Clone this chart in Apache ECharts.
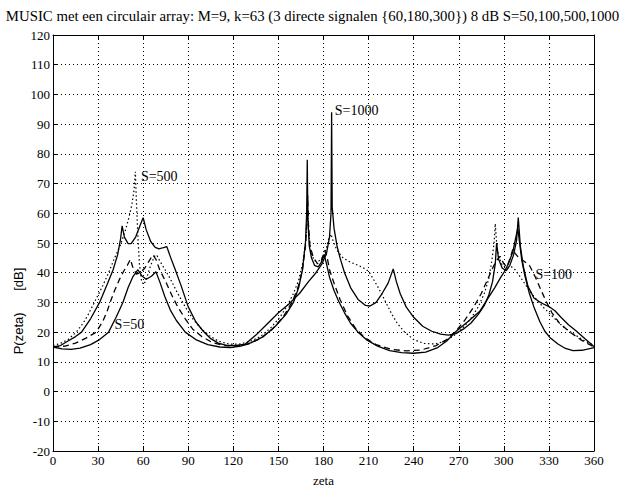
<!DOCTYPE html>
<html>
<head>
<meta charset="utf-8">
<script src="https://cdn.jsdelivr.net/npm/echarts@6/dist/echarts.min.js"></script>
<style>html,body{margin:0;padding:0;background:#fff}#c{width:625px;height:492px}</style>
</head>
<body>
<div id="c"></div>
<script>
const titleText = 'MUSIC met een circulair array: M=9, k=63 (3 directe signalen {60,180,300}) 8 dB S=50,100,500,1000';
const xTicks = [0,30,60,90,120,150,180,210,240,270,300,330,360];
const yTicks = [-20,-10,0,10,20,30,40,50,60,70,80,90,100,110,120];

// S=1000 (solid)
const s1000 = [[0,15],[5,15.5],[10,17],[15,18.5],[19,20],[25,24.5],[31,30],[36,36],[40,41],[43,46],[45,51.5],[46,55.8],[47.5,52],[50,49.8],[52,49.8],[55,52],[58,56],[60,58.5],[62,54.5],[65,50.5],[68,48.5],[70.5,48],[73,48.4],[75.7,48.8],[78,45.5],[81,41.5],[85,36],[90,28.5],[95,23.5],[100,20.3],[105,17.8],[110,16.3],[116,15.5],[122,15.5],[128,16],[135,19],[142,22.5],[150,26.5],[157,29.5],[164,33],[170,37],[175,40],[179,43],[182,46.5],[184,52],[185,60],[185.4,94],[185.8,62],[187,55],[189,49],[191,45],[194,40],[198,35],[203,31],[208,29],[211,28.8],[215,30],[219,33],[223,36.5],[226.4,41.3],[228.5,37],[231,33],[235,28.5],[240,25],[246,22],[252,20.3],[258,19.3],[263,19],[268,19.5],[273,21],[278,23],[283,26],[287,29],[290,32.5],[292.5,37],[294.3,43],[295.2,50],[296.5,44.5],[299,41.5],[301.6,40.7],[304,42.5],[306.5,46],[308.5,51],[309.6,58.6],[311,49],[313,42],[316,35.5],[320,31.5],[325,29.8],[330,28.6],[334,27.2],[338,25],[343,22.5],[348,20.5],[354,17.8],[360,15.2]];
// S=50 (solid)
const s50 = [[0,15],[6,14.4],[12,14.2],[18,14.6],[25,15.8],[31,17.5],[37,20],[42,25],[46.5,30],[50,35],[53,38.5],[56.5,41],[59,39],[62,37.8],[65.5,38.8],[68.5,40.3],[71,37],[74.4,32],[78,27.5],[82,24],[88,20],[95,17.5],[103,15.8],[111,15],[118,14.8],[125,15.3],[132,16.5],[140,18.5],[148,22],[155,26],[160,30],[163.5,35],[166,41],[168,50],[168.8,60],[169.2,78],[169.6,58],[170.5,49],[172,45],[174,42.5],[176.5,42],[178.5,43.5],[180.5,46],[182,43],[184,38.5],[187,34],[190,30.5],[194,26.5],[198,23],[203,20],[209,17.3],[216,15.3],[224,13.8],[232,13.1],[240,12.9],[248,13.3],[256,14.8],[262,17],[268.5,20.4],[276,23.5],[284,27],[289,31],[294,35],[298,38.5],[300,40],[303,43],[306,47],[308,52],[309.3,55],[310.5,50],[312,44],[314,39],[317,33],[320,28.5],[324,23.5],[327.3,20.3],[331,18],[336,16],[341,14.5],[346,13.8],[352,13.9],[360,14.8]];
// S=100 (dashed)
const s100 = [[0,15],[8,15.3],[15,16.3],[22,18],[28.7,20],[33,23.5],[36,27],[38,30],[41,34],[44,37.5],[47,40.5],[49.5,42.5],[51.5,44.5],[53,42],[55.5,39.5],[58,40],[61,41.5],[64,44],[66.5,46],[68.5,44.5],[71,41],[75,37],[79,32.5],[83,28.5],[88,24.5],[93,21],[99,18.5],[106,16.5],[114,15.5],[122,15.3],[130,16],[138,17.8],[146,21],[153,25],[159,30],[163,35],[166,41],[168,49],[169,58],[169.5,66],[170,56],[171,49],[173,45.5],[176,43],[178.5,44],[180.8,47.5],[182.5,45],[184,41],[187,36.5],[191,31],[196,25.5],[201,21.5],[207,18.3],[215,15.8],[225,14.2],[235,13.7],[245,14],[255,15.5],[262,17.5],[268,20.3],[274,24],[280,28.5],[285,33],[289,37.5],[292,41],[295,44],[297.5,45.5],[300,43],[302,42],[304,44.5],[306,48],[307.5,46.5],[310,45],[313,44],[317,42.5],[321,38.5],[324,35],[328,30.5],[332,26.5],[337,23],[344,20],[351,17.5],[360,15]];
// S=500 (dotted)
const s500 = [[0,15.5],[5,16.2],[10,17.5],[15.5,20],[20,23],[23,25.5],[26,28.5],[29,31.5],[33,35.5],[37,40],[41,45],[45,49.5],[48,54],[50.5,58.5],[52.5,63],[54,68],[54.8,74],[55.5,64],[56.5,52],[57.5,43],[59,37],[60.5,36],[62.5,38.5],[65,42.5],[67.5,45.5],[69,46],[71,44],[74,41.5],[78,38],[83,33],[88,28.5],[93,24.5],[98,21.5],[104,18.8],[110,17],[117,16],[124,16],[131,16.8],[138,18.5],[145,21.5],[151,25],[156,29],[160,33],[163.5,37.5],[166.5,44],[168.5,52],[169.5,62],[170.3,53],[171.5,47],[174,44],[177,44],[180,45.5],[182,48.5],[183.5,51.5],[185,53],[186.5,50.5],[189,47.5],[193,45],[198,43.5],[203,42.5],[207,41.5],[210,40.5],[213,38],[217,34.5],[221,30.5],[225,26.5],[229,23],[234,20],[240,17.5],[247,16.2],[254,16],[260,16.8],[266,18.5],[272,21],[278,24.5],[283,28.5],[287,33],[290,38],[292,44],[293.5,50],[294.3,56.5],[295.2,50],[296.5,45.5],[299,42.5],[302,41.5],[305,42],[307.5,41],[311,38.5],[315,35.5],[320,32],[326,28.5],[332,25.5],[339,22],[346,19.5],[353,17.3],[360,15.5]];

const labelNames = ['S=50','S=100','S=500','S=1000'];
const labelAt = [[41,22.5],[321,39.5],[58.5,72.5],[187.5,94.5]];

const serif = '"Liberation Serif","Times New Roman",serif';
const chart = echarts.init(document.getElementById('c'), null, {renderer:'svg'});

const mk = (name, data, type, width) => ({
  name, type:'line', data, symbol:'none', smooth:false, animation:false,
  lineStyle:{color:'#000', width, type}, z:3
});

const tickStyle = {show:true, inside:true, length:5, lineStyle:{color:'#000', width:1}};
const lineStyle = {show:true, onZero:false, lineStyle:{color:'#000', width:1}};
const gridLine = {show:true, lineStyle:{color:'#000', type:[1,3], width:1}};

chart.setOption({
  animation:false,
  backgroundColor:'#fff',
  title:{text:titleText, left:'center', top:3, textStyle:{fontFamily:serif, fontSize:14.8, fontWeight:'normal', color:'#000'}},
  grid:{left:53, right:31, top:35, bottom:32},
  xAxis:[
    {type:'value', min:0, max:360, interval:30, position:'bottom',
     name:'zeta', nameLocation:'middle', nameGap:23, nameTextStyle:{fontFamily:serif,fontSize:13,color:'#000'},
     axisLine:lineStyle, axisTick:tickStyle,
     axisLabel:{color:'#000', fontFamily:serif, fontSize:13, margin:3, formatter:v=>xTicks.includes(v)?String(v):''},
     splitLine:gridLine},
    {type:'value', min:0, max:360, interval:30, position:'top',
     axisLine:lineStyle, axisTick:tickStyle, axisLabel:{show:false}, splitLine:{show:false}}
  ],
  yAxis:[
    {type:'value', min:-20, max:120, interval:10, position:'left',
     axisLine:lineStyle, axisTick:tickStyle,
     axisLabel:{color:'#000', fontFamily:serif, fontSize:13, margin:3, formatter:v=>yTicks.includes(v)?String(v):''},
     splitLine:gridLine},
    {type:'value', min:-20, max:120, interval:10, position:'right',
     axisLine:lineStyle, axisTick:tickStyle, axisLabel:{show:false}, splitLine:{show:false}}
  ],
  series:[
    mk('S=50', s50, 'solid', 1.3),
    mk('S=100', s100, [6,4], 1.3),
    mk('S=500', s500, [1.5,2.5], 1.2),
    mk('S=1000', s1000, 'solid', 1.3)
  ]
});

const texts = [{type:'text', x:18, y:311, rotation:Math.PI/2, z:10,
  style:{text:'P(zeta)      [dB]', align:'center', verticalAlign:'middle', fill:'#000',
    font:'13px "Liberation Sans", Arial, sans-serif'}}];
labelAt.forEach((p,i)=>{
  const px = chart.convertToPixel({gridIndex:0}, p);
  texts.push({type:'text', x:px[0], y:px[1], z:10,
    style:{text:labelNames[i], align:'left', verticalAlign:'middle', fill:'#000',
      font:'14px "Liberation Serif", "Times New Roman", serif'}});
});
chart.setOption({graphic:texts});
</script>
</body>
</html>
